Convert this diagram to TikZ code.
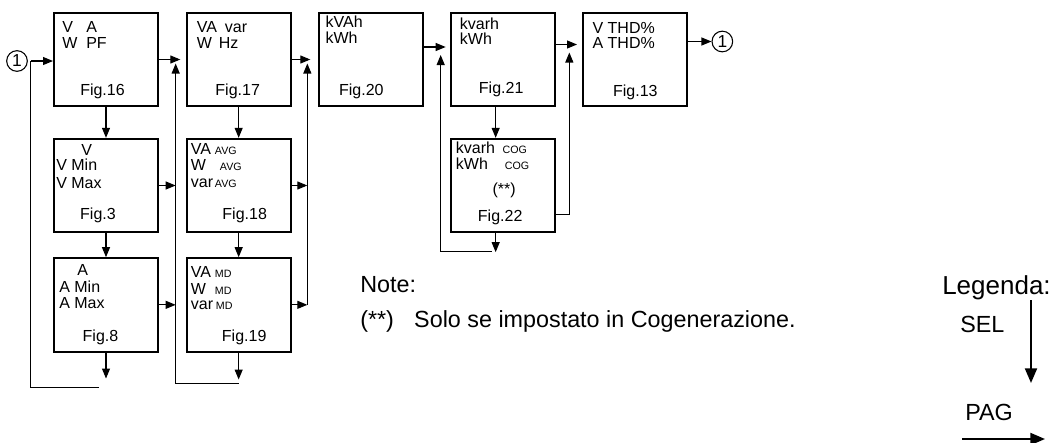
\documentclass[tikz,border=0pt]{standalone}
\usepackage{fontspec}
\setmainfont{Liberation Sans}
\usetikzlibrary{arrows.meta,positioning}
\newcommand{\smc}[1]{{\fontsize{8}{8}\selectfont #1}}
\tikzset{
  panel/.style={draw, line width=1.5pt, minimum width=78pt, minimum height=70pt, inner sep=0pt},
  val/.style={font=\fontsize{12}{12}\selectfont, inner sep=0pt, anchor=base west},
  figlbl/.style={font=\fontsize{12}{12}\selectfont, inner sep=0pt, anchor=base},
  note/.style={font=\fontsize{17.5}{17.5}\selectfont, inner sep=0pt, anchor=base west},
  num/.style={draw, circle, line width=0.8pt, minimum size=15.5pt, inner sep=0pt, font=\fontsize{13}{13}\selectfont},
  arr/.style={-{Triangle[length=7.5pt, width=6pt]}, line width=0.8pt},
  legarr/.style={-{Triangle[length=11pt, width=9pt]}, line width=1.5pt},
  wire/.style={line width=0.8pt}
}

\begin{document}
\begin{tikzpicture}[x=0.75pt, y=-0.75pt, node distance=23pt and 20pt]
  \useasboundingbox (0,0) rectangle (1054,443);

  % pages
  \node[panel] (f16) at (106,59.5) {};
  \node[panel, right=of f16] (f17) {};
  \node[panel, right=of f17] (f20) {};
  \node[panel, right=19pt of f20] (f21) {};
  \node[panel, right=of f21] (f13) {};
  \node[panel, below=of f16] (f3) {};
  \node[panel, below=18pt of f3] (f8) {};
  \node[panel, below=of f17] (f18) {};
  \node[panel, below=18pt of f18] (f19) {};
  \node[panel, below=of f21] (f22) {};

  % page contents
  \node[val] (f16a) at ([shift={(9,21)}]f16.north west) {\makebox[18pt][l]{V}A};
  \node[val] (f16b) at ([shift={(9,37)}]f16.north west) {\makebox[18pt][l]{W}PF};
  \node[figlbl] (f16n) at ([shift={(-3.5,-12)}]f16.south) {Fig.16};

  \node[val] (f17a) at ([shift={(11,21)}]f17.north west) {\makebox[21pt][l]{VA}var};
  \node[val] (f17b) at ([shift={(11,37)}]f17.north west) {\makebox[16.5pt][l]{W}Hz};
  \node[figlbl] (f17n) at ([shift={(-1,-12)}]f17.south) {Fig.17};

  \node[val] (f3a) at ([shift={(28,18)}]f3.north west) {V};
  \node[val] (f3b) at ([shift={(3,33)}]f3.north west) {V Min};
  \node[val] (f3c) at ([shift={(3,51)}]f3.north west) {V Max};
  \node[figlbl] (f3n) at ([shift={(-8,-14)}]f3.south) {Fig.3};

  \node[val] (f8a) at ([shift={(24,18)}]f8.north west) {A};
  \node[val] (f8b) at ([shift={(6,35)}]f8.north west) {A Min};
  \node[val] (f8c) at ([shift={(6,51)}]f8.north west) {A Max};
  \node[figlbl] (f8n) at ([shift={(-5.5,-11)}]f8.south) {Fig.8};

  \node[val] (f18a) at ([shift={(5,17)}]f18.north west) {\makebox[18pt][l]{VA}\smc{AVG}};
  \node[val] (f18b) at ([shift={(5,33)}]f18.north west) {\makebox[21.75pt][l]{W}\smc{AVG}};
  \node[val] (f18c) at ([shift={(5,50)}]f18.north west) {\makebox[18pt][l]{var}\smc{AVG}};
  \node[figlbl] (f18n) at ([shift={(6,-14)}]f18.south) {Fig.18};

  \node[val] (f19a) at ([shift={(5,20)}]f19.north west) {\makebox[18pt][l]{VA}\smc{MD}};
  \node[val] (f19b) at ([shift={(5,37)}]f19.north west) {\makebox[18pt][l]{W}\smc{MD}};
  \node[val] (f19c) at ([shift={(5,52)}]f19.north west) {\makebox[18.75pt][l]{var}\smc{MD}};
  \node[figlbl] (f19n) at ([shift={(5.5,-11)}]f19.south) {Fig.19};

  \node[val] (f20a) at ([shift={(7,16)}]f20.north west) {kVAh};
  \node[val] (f20b) at ([shift={(7,32)}]f20.north west) {kWh};
  \node[figlbl] (f20n) at ([shift={(-10,-12)}]f20.south) {Fig.20};

  \node[val] (f21a) at ([shift={(10,18)}]f21.north west) {kvarh};
  \node[val] (f21b) at ([shift={(10,33)}]f21.north west) {kWh};
  \node[figlbl] (f21n) at ([shift={(-1.5,-14)}]f21.south) {Fig.21};

  \node[val] (f22a) at ([shift={(6,16)}]f22.north west) {\makebox[35pt][l]{kvarh}\smc{COG}};
  \node[val] (f22b) at ([shift={(6,32)}]f22.north west) {\makebox[36.75pt][l]{kWh}\smc{COG}};
  \node[figlbl] (f22s) at ([shift={(1.5,57)}]f22.north) {(**)};
  \node[figlbl] (f22n) at ([shift={(-2.5,-12)}]f22.south) {Fig.22};

  \node[val] (f13a) at ([shift={(10,22)}]f13.north west) {V THD\%};
  \node[val] (f13b) at ([shift={(10,37)}]f13.north west) {A THD\%};
  \node[figlbl] (f13n) at ([shift={(0,-11)}]f13.south) {Fig.13};

  % loop markers
  \node[num] (c1) at ([shift={(-36,1.5)}]f16.west) {1};
  \node[num] (c2) at ([shift={(34,-18)}]f13.east) {1};

  % bus points
  \coordinate (j1) at ([shift={(3,0)}]c1.east);
  \coordinate (b1t) at ([shift={(-10,4)}]f17.west);
  \coordinate (b2t) at ([shift={(-11,4)}]f20.west);
  \coordinate (b2b) at (b2t |- f19);
  \coordinate (b3t) at ([shift={(-9,-4.5)}]f21.west);
  \coordinate (b4t) at ([shift={(-13,-7)}]f13.west);
  \coordinate (o8) at ([shift={(0,26)}]f8.south);
  \coordinate (o19) at ([shift={(0,27)}]f19.south);
  \coordinate (o22) at ([shift={(-7,19)}]f22.south);
  \coordinate (ret1) at ([shift={(-7,35)}]f8.south);
  \coordinate (ret2) at ([shift={(0,31)}]f19.south);
  \coordinate (ret3) at ([shift={(-11,18)}]f22.south);

  % SEL
  \draw[arr] (f16) -- (f3);
  \draw[arr] (f3) -- (f8);
  \draw[arr] (f8) -- (o8);
  \draw[arr] (f17) -- (f18);
  \draw[arr] (f18) -- (f19);
  \draw[arr] (f19) -- (o19);
  \draw[arr] ([shift={(-7,0)}]f21.south) -- ([shift={(-7,0)}]f22.north);
  \draw[arr] ([shift={(-7,0)}]f22.south) -- (o22);

  % PAG
  \draw[arr] (j1) -- (f16.west |- c1);
  \draw[wire] (ret1) -| (j1);
  \draw[arr, shorten >=4pt] (f16) -- (f17);
  \draw[arr] (f3) -- (f3 -| b1t);
  \draw[arr] (f8) -- (f8 -| b1t);
  \draw[arr] (ret2) -| (b1t);
  \draw[arr, shorten >=6pt] (f17) -- (f17 -| f20.west);
  \draw[arr] (f18) -- (f18 -| b2t);
  \draw[arr] (f19) -- (b2b);
  \draw[arr] (b2b) -- (b2t);
  \draw[arr, shorten >=3pt] ([shift={(0,-12.5)}]f20.east) -- ([shift={(0,-12.5)}]f21.west);
  \draw[arr] (ret3) -| (b3t);
  \draw[arr, shorten >=4pt] ([shift={(0,-15)}]f21.east) -- ([shift={(0,-15)}]f13.west);
  \draw[arr] ([shift={(0,29)}]f22.east) -| (b4t);
  \draw[arr] ([shift={(0,-18)}]f13.east) -- (c2);

  % note
  \node[note] (nt) at (360,292) {Note:};
  \node[note] (nt2) at (360,327) {\makebox[40.5pt][l]{(**)}Solo se impostato in Cogenerazione.};

  % legend
  \node[note, font=\fontsize{19.5}{19.5}\selectfont] (leg) at (942,294) {Legenda:};
  \node[note] (sel) at (960,332) {SEL};
  \node[note] (pag) at (965,420) {PAG};
  \coordinate (selA) at (1031,300);
  \coordinate (selB) at (1031,383);
  \coordinate (pagA) at (962,439);
  \coordinate (pagB) at (1045,439);
  \draw[legarr] (selA) -- (selB);
  \draw[legarr] (pagA) -- (pagB);
\end{tikzpicture}
\end{document}
